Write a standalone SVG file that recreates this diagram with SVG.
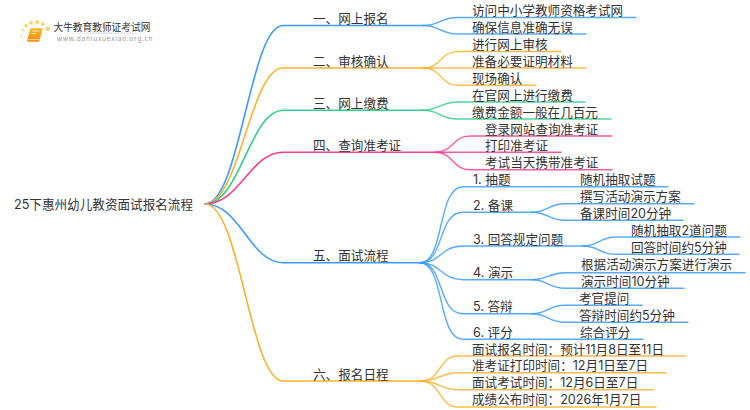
<svg xmlns="http://www.w3.org/2000/svg" width="750" height="410" viewBox="0 0 750 410">
<defs>
<linearGradient id="bk" x1="0" y1="0" x2="0" y2="1"><stop offset="0" stop-color="#fdb62a"/><stop offset="1" stop-color="#f08a14"/></linearGradient>
<linearGradient id="sh" x1="0" y1="0" x2="1" y2="0"><stop offset="0" stop-color="#ddd" stop-opacity="0"/><stop offset=".5" stop-color="#ddd"/><stop offset="1" stop-color="#ddd" stop-opacity="0"/></linearGradient>
</defs>
<style>
text{font-family:"Inter","Noto Sans CJK SC","Noto Sans",sans-serif;font-size:12.6px;fill:#333}
.c{fill:none;stroke-width:1.6;stroke-linecap:round}
.f{stroke-width:1.4;stroke-opacity:.85}
.b{stroke:#3c9cff}.o{stroke:#fdb22c}.g{stroke:#2fd08a}.p{stroke:#ff3d8f}
.d{fill:#fdd36a}
</style>
<rect width="750" height="410" fill="#fff"/>
<g id="logo">
<circle class="d" cx="47.7" cy="28.7" r="2.4"/><circle class="d" cx="42.7" cy="24" r="2"/><circle class="d" cx="37.3" cy="22" r="2"/><circle class="d" cx="31" cy="22.7" r="2"/><circle class="d" cx="26" cy="25.7" r="1.7"/><circle class="d" cx="22.7" cy="30" r="1.4" opacity=".8"/><circle class="d" cx="21.7" cy="36" r="1.2" opacity=".6"/><circle class="d" cx="23.3" cy="42" r="1" opacity=".4"/>
<path d="M30.5,28.3H42.7L39.6,40.5Q39.3,41.7 38,41.7H28.5Q26.8,41.7 27.2,40Z" fill="url(#bk)"/>
<path d="M28.2,39.6H39.6" stroke="#fde9b8" stroke-width=".8" fill="none"/>
<path d="M32,31H39.5M31.5,33.5H36" stroke="#fde9b8" stroke-width="1" fill="none"/>
<rect x="60" y="32.5" width="90" height="1.5" fill="url(#sh)"/>
<text x="53.5" y="30.5" style="font-size:9.7px">大牛教育教师证考试网</text>
<text x="57" y="41" style="font-family:'Noto Sans',sans-serif;font-size:6.5px;fill:#999;letter-spacing:.75px">www.daniuxuexiao.org.cn</text>
</g>
<g id="connectors">
<path class="c b" d="M205,204C240,204 250,25.5 283,25.5H423"/>
<path class="c o" d="M205,204C240,204 250,68 283,68H423"/>
<path class="c g" d="M205,204C240,204 250,110.3 283,110.3H423"/>
<path class="c p" d="M205,204C240,204 250,152.3 283,152.3H435"/>
<path class="c b" d="M205,204C240,204 250,262.7 283,262.7H420"/>
<path class="c o" d="M205,204C240,204 250,381 283,381H420"/>
<path class="c f b" d="M423,25.5C440,25.5 440,17.5 458,17.5H636"/>
<path class="c f b" d="M423,25.5C440,25.5 440,34 458,34H586"/>
<path class="c f o" d="M423,68C442,68 440,51.5 458,51.5H561"/>
<path class="c f o" d="M423,68H586"/>
<path class="c f o" d="M423,68C442,68 440,85.3 458,85.3H536"/>
<path class="c f g" d="M423,110.3C440,110.3 440,102 458,102H585"/>
<path class="c f g" d="M423,110.3C440,110.3 440,119 458,119H611"/>
<path class="c f p" d="M435,152.3C454,152.3 452,136 470,136H612"/>
<path class="c f p" d="M435,152.3H561"/>
<path class="c f p" d="M435,152.3C454,152.3 452,169.7 470,169.7H612"/>
<path class="c f b" d="M420,262.7C445,262.7 437,186.7 463,186.7H668"/>
<path class="c f b" d="M420,262.7C445,262.7 437,212.3 463,212.3H532"/>
<path class="c f b" d="M420,262.7C442,262.7 440,246 463,246H583"/>
<path class="c f b" d="M420,262.7C442,262.7 440,279.7 463,279.7H532"/>
<path class="c f b" d="M420,262.7C445,262.7 437,313.7 463,313.7H532"/>
<path class="c f b" d="M420,262.7C445,262.7 437,339.3 463,339.3H643"/>
<path class="c f b" d="M532,212.3C548,212.3 548,203.7 565,203.7H694"/>
<path class="c f b" d="M532,212.3C548,212.3 548,220.3 565,220.3H683"/>
<path class="c f b" d="M583,246C599,246 599,237 616,237H740"/>
<path class="c f b" d="M583,246C599,246 599,254.3 616,254.3H739"/>
<path class="c f b" d="M532,279.7C548,279.7 548,272.7 565,272.7H745"/>
<path class="c f b" d="M532,279.7C548,279.7 548,288.3 565,288.3H684"/>
<path class="c f b" d="M532,313.7C548,313.7 548,305.3 565,305.3H642"/>
<path class="c f b" d="M532,313.7C548,313.7 548,322.3 565,322.3H688"/>
<path class="c f o" d="M420,381C442,381 438,356 458,356H686"/>
<path class="c f o" d="M420,381C440,381 440,372.7 458,372.7H666"/>
<path class="c f o" d="M420,381C440,381 440,389.7 458,389.7H653"/>
<path class="c f o" d="M420,381C442,381 438,407 458,407H656"/>
</g>
<g id="root"><text x="14" y="209">25下惠州幼儿教资面试报名流程</text></g>
<g id="n1"><text x="313" y="23">一、网上报名</text></g>
<g id="n1-1"><text x="472" y="15">访问中小学教师资格考试网</text></g>
<g id="n1-2"><text x="472" y="32">确保信息准确无误</text></g>
<g id="n2"><text x="313" y="65.5">二、审核确认</text></g>
<g id="n2-1"><text x="472" y="49">进行网上审核</text></g>
<g id="n2-2"><text x="472" y="66">准备必要证明材料</text></g>
<g id="n2-3"><text x="472" y="83">现场确认</text></g>
<g id="n3"><text x="313" y="108">三、网上缴费</text></g>
<g id="n3-1"><text x="472" y="100">在官网上进行缴费</text></g>
<g id="n3-2"><text x="472" y="117">缴费金额一般在几百元</text></g>
<g id="n4"><text x="313" y="150">四、查询准考证</text></g>
<g id="n4-1"><text x="485" y="134">登录网站查询准考证</text></g>
<g id="n4-2"><text x="485" y="150">打印准考证</text></g>
<g id="n4-3"><text x="485" y="167">考试当天携带准考证</text></g>
<g id="n5"><text x="313" y="260">五、面试流程</text></g>
<g id="n5-1"><text x="473" y="184">1. 抽题</text></g>
<g id="n5-1-1"><text x="580" y="184">随机抽取试题</text></g>
<g id="n5-2"><text x="473" y="209.5">2. 备课</text></g>
<g id="n5-2-1"><text x="580" y="201">撰写活动演示方案</text></g>
<g id="n5-2-2"><text x="580" y="218">备课时间20分钟</text></g>
<g id="n5-3"><text x="473" y="243.5">3. 回答规定问题</text></g>
<g id="n5-3-1"><text x="631" y="235">随机抽取2道问题</text></g>
<g id="n5-3-2"><text x="631" y="252">回答时间约5分钟</text></g>
<g id="n5-4"><text x="473" y="277">4. 演示</text></g>
<g id="n5-4-1"><text x="581" y="269">根据活动演示方案进行演示</text></g>
<g id="n5-4-2"><text x="581" y="286">演示时间10分钟</text></g>
<g id="n5-5"><text x="473" y="311">5. 答辩</text></g>
<g id="n5-5-1"><text x="579" y="303">考官提问</text></g>
<g id="n5-5-2"><text x="579" y="320">答辩时间约5分钟</text></g>
<g id="n5-6"><text x="473" y="336.5">6. 评分</text></g>
<g id="n5-6-1"><text x="580" y="336.5">综合评分</text></g>
<g id="n6"><text x="313" y="378.5">六、报名日程</text></g>
<g id="n6-1"><text x="472" y="353.5">面试报名时间：预计11月8日至11日</text></g>
<g id="n6-2"><text x="472" y="370">准考证打印时间：12月1日至7日</text></g>
<g id="n6-3"><text x="472" y="387">面试考试时间：12月6日至7日</text></g>
<g id="n6-4"><text x="472" y="404">成绩公布时间：2026年1月7日</text></g>
</svg>
